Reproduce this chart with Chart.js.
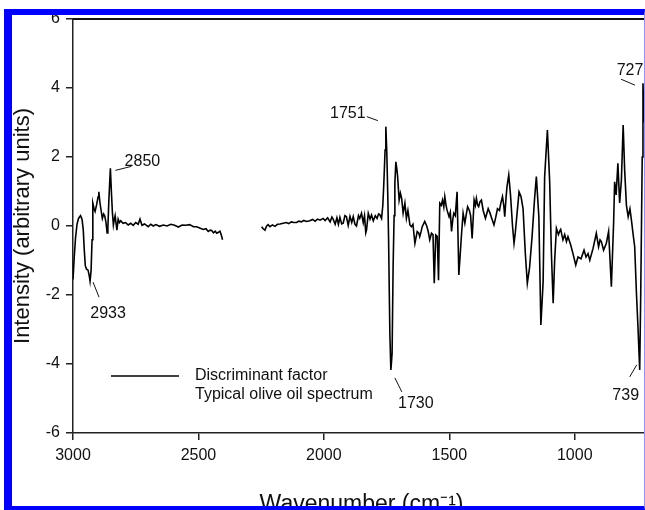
<!DOCTYPE html>
<html>
<head>
<meta charset="utf-8">
<script src="https://cdn.jsdelivr.net/npm/chart.js@4.4.1/dist/chart.umd.min.js"></script>
<style>
  html, body { margin: 0; padding: 0; background: #fff; overflow: hidden; width: 645px; height: 510px; }
  #wrap { position: relative; width: 645px; height: 510px; overflow: hidden; }
  #chart { position: absolute; left: 0; top: 0; }
  #frame {
    position: absolute; left: 4px; top: 9px; width: 632px; height: 491px;
    border-left: 8px solid #0000ff; border-top: 6px solid #0000ff; border-bottom: 4px solid #0000ff;
    border-right: 1px solid #9090ff; box-sizing: content-box; pointer-events: none;
  }
</style>
</head>
<body>
<div id="wrap">
  <canvas id="chart" width="660" height="520"></canvas>
  <div id="frame"></div>
</div>
<script>
// wavenumber (cm-1) and discriminant factor intensity
const wavenumbers = [
  3000, 2995, 2990, 2984, 2978, 2970, 2964, 2959, 2955, 2951, 2946, 2940, 2935, 2932, 2928, 2924, 2921, 2916, 2912, 2906,
  2900, 2897, 2893, 2889, 2883, 2878, 2874, 2869, 2864, 2861, 2857, 2851, 2847, 2843, 2839, 2835, 2832, 2828, 2825, 2820,
  2815, 2810, 2800, 2790, 2780, 2770, 2760, 2750, 2740, 2733, 2725, 2715, 2700, 2690, 2680, 2670, 2655, 2640, 2625, 2610,
  2595, 2580, 2565, 2550, 2535, 2520, 2507, 2495, 2481, 2470, 2461, 2453, 2447, 2440, 2433, 2427, 2420, 2414, 2408, 2404,
  2330,
  2248, 2242, 2235, 2228, 2222, 2215, 2205, 2195, 2185, 2175, 2162, 2150, 2140, 2130, 2120, 2109, 2100, 2090, 2080, 2070,
  2056, 2045, 2035, 2025, 2015, 2003, 1995, 1985, 1975, 1968, 1963, 1955, 1948, 1942, 1936, 1929, 1923, 1916, 1910, 1903,
  1896, 1889, 1883, 1876, 1870, 1862, 1857, 1850, 1843, 1838, 1833, 1830, 1823, 1816, 1810, 1803, 1795, 1788, 1782, 1777,
  1770, 1765, 1761, 1756, 1753, 1749, 1745, 1742, 1737, 1733, 1731, 1728, 1724, 1720, 1717, 1713, 1709, 1706, 1700, 1695,
  1690, 1684, 1677, 1671, 1665, 1657, 1651, 1645, 1637, 1628, 1622, 1618, 1612, 1608, 1598, 1590, 1584, 1578, 1571, 1565,
  1560, 1554, 1548, 1543, 1538, 1532, 1527, 1522, 1518, 1513, 1509, 1501, 1496, 1491, 1486, 1482, 1476, 1469, 1462, 1451,
  1445, 1438, 1432, 1427, 1420, 1415, 1409, 1401, 1396, 1392, 1387, 1383, 1378, 1372, 1365, 1356, 1345, 1338, 1330, 1322,
  1315, 1308, 1300, 1295, 1288, 1283, 1279, 1274, 1270, 1263, 1256, 1248, 1242, 1237, 1232, 1222, 1214, 1206, 1197, 1189,
  1180, 1170, 1160, 1153, 1143, 1135, 1126, 1120, 1109, 1100, 1093, 1086, 1080, 1073, 1065, 1060, 1056, 1047, 1040, 1033,
  1027, 1016, 1007, 996, 987, 975, 963, 955, 947, 940, 927, 914, 905, 899, 894, 885, 874, 865, 854, 845,
  841, 835, 828, 821, 814, 807, 801, 794, 787, 780, 774, 768, 761, 754, 748, 741, 737, 734, 731, 728,
  724
];
const discriminant = [
  -1.55, -0.9, -0.35, 0.05, 0.22, 0.3, 0.2, -0.12, -0.7, -1.15, -1.25, -1.28, -1.45, -1.6, -1.3, -0.4, 0.66, 0.5, 0.42, 0.61,
  0.85, 0.99, 0.7, 0.5, 0.22, 0.35, 0.3, 0.13, -0.2, -0.05, 0.75, 1.67, 1.0, 0.4, 0.03, 0.2, 0.3, 0.05, -0.12, 0.2,
  0.1, 0.15, 0.08, 0.1, 0.03, 0.08, 0.02, 0.1, 0.05, 0.2, 0.02, 0.06, -0.02, 0.05, 0.0, 0.04, -0.01, 0.03, 0.0, 0.05,
  0.02, -0.03, 0.03, 0.02, 0.04, -0.02, -0.02, -0.06, -0.1, -0.08, -0.16, -0.12, -0.13, -0.2, -0.15, -0.21, -0.18, -0.15, -0.28, -0.4,
  null,
  -0.02, -0.08, -0.12, 0.0, 0.04, -0.02, 0.03, -0.01, 0.05, 0.06, 0.08, 0.1, 0.07, 0.12, 0.1, 0.1, 0.14, 0.12, 0.16, 0.13,
  0.15, 0.19, 0.14, 0.2, 0.17, 0.22, 0.16, 0.24, 0.12, 0.26, 0.2, 0.05, 0.24, 0.05, 0.25, 0.06, 0.08, 0.3, 0.27, 0.02,
  0.28, 0.1, 0.27, 0.05, 0.0, 0.3, 0.22, 0.37, 0.1, 0.3, -0.2, -0.12, 0.37, 0.2, 0.32, 0.15, 0.3, 0.22, 0.35, 0.33,
  0.22, 0.6, 1.24, 2.2, 2.88, 2.1, 0.8, -0.4, -3.11, -4.17, -4.0, -3.69, -1.18, 0.3, 1.24, 1.86, 1.65, 1.43, 0.75, 0.95,
  0.8, 0.37, 0.66, 0.22, 0.45, 0.03, -0.02, 0.05, -0.5, -0.16, -0.2, -0.31, -0.15, -0.02, 0.13, 0.0, -0.16, -0.4, -0.21, -0.25,
  -1.66, -0.26, -0.3, -1.57, 0.66, 0.6, 0.75, 0.55, 0.85, 0.6, 0.46, 0.27, 0.4, -0.16, 0.2, 0.37, 0.3, 0.99, -1.42, -0.21,
  0.37, 0.08, 0.35, 0.56, 0.45, 0.3, -0.36, 0.75, 0.6, 0.8, 0.6, 0.56, 0.7, 0.75, 0.45, 0.22, 0.5, 0.38, 0.2, 0.03,
  0.25, 0.5, 0.45, 0.65, 0.85, 0.6, 0.27, 0.8, 1.14, 1.48, 0.9, 0.0, -0.5, -0.2, 0.2, 0.99, 0.85, 0.5, -0.79, -1.66,
  -1.2, -0.3, 0.8, 1.43, 0.27, -2.87, -1.62, 1.43, 2.78, 1.3, -0.8, -2.24, -0.99, -0.07, -0.25, -0.15, -0.1, -0.4, -0.25, -0.45,
  -0.31, -0.55, -0.8, -1.13, -0.9, -0.95, -0.7, -0.9, -0.8, -0.99, -0.65, -0.21, -0.6, -0.4, -0.45, -0.7, -0.5, -0.16, -1.76, 0.1,
  1.28, 0.9, 1.82, 0.67, 1.33, 2.93, 1.62, 0.6, 0.27, 0.5, 0.17, -0.2, -0.6, -1.95, -2.92, -4.17, -2.0, 0.0, 2.0, 4.14,
  3.0
];
// legend-only series, not visible in the figure
const oliveOilSpectrum = [];

const xTickValues = [3000, 2500, 2000, 1500, 1000];
const yTickValues = [-6, -4, -2, 0, 2, 4, 6];

// peak annotations
const peakLabels = ['2933', '2850', '1751', '1730', '739', '727'];
const peakWavenumbers = [2932, 2851, 1753, 1733, 741, 728];
const peakValues = [-1.6, 1.67, 2.88, -4.17, -4.17, 4.14];

const FONT = '"Liberation Sans", Arial, Helvetica, sans-serif';
const INK = '#111';

const points = wavenumbers.map((w, i) => ({ x: w, y: discriminant[i] }));

// text offset [dx, dy] and leader line [x1, y1, x2, y2] relative to the peak, in px
const annoStyle = [
  { t: [18, 32], l: [3, 1, 9, 16] },
  { t: [32, -7], l: [5, 2, 21, -2] },
  { t: [-38, -13], l: [-19, -10, -8, -6] },
  { t: [25, 34], l: [4, 8, 11, 22] },
  { t: [-14, 26], l: [-10, 7, -3, -5] },
  { t: [-13, -13], l: [-22, -4, -8, 2] }
];

const decorations = {
  id: 'decorations',
  afterDraw(chart) {
    const { ctx, chartArea, scales } = chart;
    ctx.save();
    // top frame line
    ctx.strokeStyle = '#111';
    ctx.lineWidth = 2;
    ctx.beginPath();
    ctx.moveTo(chartArea.left, chartArea.top);
    ctx.lineTo(chart.width, chartArea.top);
    ctx.stroke();

    // peak labels
    ctx.font = '16px ' + FONT;
    ctx.fillStyle = INK;
    ctx.textAlign = 'center';
    ctx.textBaseline = 'middle';
    ctx.lineWidth = 1;
    peakLabels.forEach((txt, i) => {
      const px = scales.x.getPixelForValue(peakWavenumbers[i]);
      const py = scales.y.getPixelForValue(peakValues[i]);
      const s = annoStyle[i];
      ctx.fillText(txt, px + s.t[0], py + s.t[1]);
      ctx.beginPath();
      ctx.moveTo(px + s.l[0], py + s.l[1]);
      ctx.lineTo(px + s.l[2], py + s.l[3]);
      ctx.stroke();
    });

    // legend inside the plot
    const lx = 111, ly = 376;
    chart.data.datasets.forEach((ds, i) => {
      const y = ly + i * 19;
      ctx.strokeStyle = ds.borderColor;
      ctx.lineWidth = 1.6;
      ctx.beginPath();
      ctx.moveTo(lx, y);
      ctx.lineTo(lx + 68, y);
      ctx.stroke();
      ctx.textAlign = 'left';
      ctx.fillText(ds.label, lx + 84, y);
    });
    ctx.restore();
  }
};

new Chart(document.getElementById('chart'), {
  type: 'line',
  data: {
    datasets: [
      {
        label: 'Discriminant factor',
        data: points,
        borderColor: '#000',
        borderWidth: 1.6,
        pointRadius: 0,
        tension: 0,
        spanGaps: false
      },
      {
        label: 'Typical olive oil spectrum',
        data: oliveOilSpectrum,
        borderColor: 'rgba(0,0,0,0)',
        borderWidth: 1,
        pointRadius: 0
      }
    ]
  },
  options: {
    responsive: false,
    animation: false,
    layout: { padding: { left: 0, top: 19, right: 10, bottom: 0 } },
    plugins: { legend: { display: false }, tooltip: { enabled: false } },
    scales: {
      x: {
        type: 'linear',
        reverse: true,
        min: 700,
        max: 3000,
        afterBuildTicks: s => { s.ticks = xTickValues.map(v => ({ value: v })); },
        afterFit: s => { s.height = 87; },
        grid: { drawOnChartArea: false, tickLength: 7, color: '#222', lineWidth: 1.5 },
        border: { color: '#222', width: 1.5 },
        ticks: { font: { size: 16, family: FONT }, color: INK, padding: 6, maxRotation: 0, callback: v => String(v) },
        title: {
          display: true,
          text: 'Wavenumber (cm\u207B\u00B9)',
          font: { size: 23, family: FONT },
          color: INK,
          padding: { top: 0, bottom: 2 }
        }
      },
      y: {
        min: -6,
        max: 6,
        afterBuildTicks: s => { s.ticks = yTickValues.map(v => ({ value: v })); },
        afterFit: s => { s.width = 73; },
        grid: { drawOnChartArea: false, tickLength: 7, color: '#222', lineWidth: 1.5 },
        border: { color: '#222', width: 1.5 },
        ticks: { font: { size: 16, family: FONT }, color: INK, padding: 6, callback: v => String(v) },
        title: {
          display: true,
          text: 'Intensity (arbitrary units)',
          font: { size: 22, family: FONT },
          color: INK,
          padding: { top: 10, bottom: 0 }
        }
      }
    }
  },
  plugins: [decorations]
});
</script>
</body>
</html>
